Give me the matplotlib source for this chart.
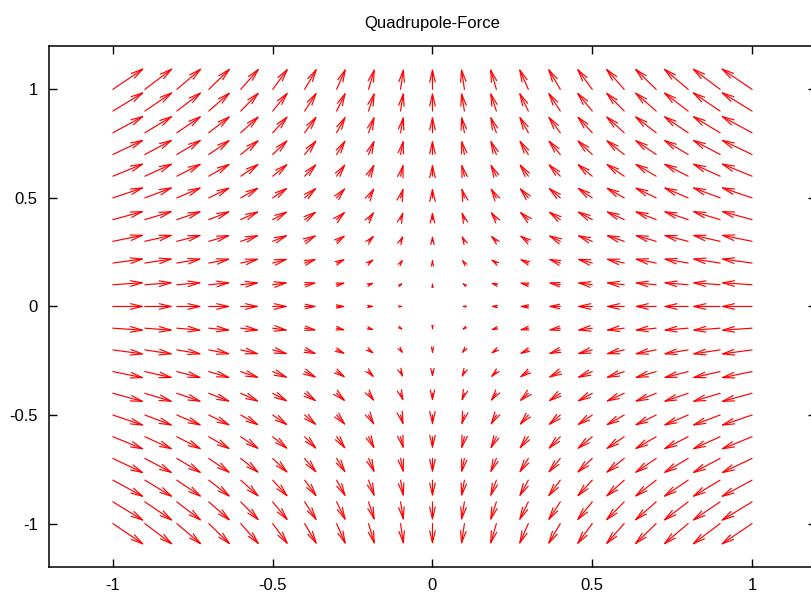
import matplotlib
matplotlib.use("Agg")
import matplotlib.pyplot as plt
import numpy as np

plt.rcParams['font.family'] = ['Liberation Sans', 'DejaVu Sans']

# grid of arrow tails (same in x and y)
x_pos = [-1.0, -0.9, -0.8, -0.7, -0.6, -0.5, -0.4, -0.3, -0.2, -0.1, 0.0,
         0.1, 0.2, 0.3, 0.4, 0.5, 0.6, 0.7, 0.8, 0.9, 1.0]
y_pos = [-1.0, -0.9, -0.8, -0.7, -0.6, -0.5, -0.4, -0.3, -0.2, -0.1, 0.0,
         0.1, 0.2, 0.3, 0.4, 0.5, 0.6, 0.7, 0.8, 0.9, 1.0]
# horizontal force component per column, vertical component per row
u_col = [0.10, 0.09, 0.08, 0.07, 0.06, 0.05, 0.04, 0.03, 0.02, 0.01, 0.0,
         -0.01, -0.02, -0.03, -0.04, -0.05, -0.06, -0.07, -0.08, -0.09, -0.10]
v_row = [-0.10, -0.09, -0.08, -0.07, -0.06, -0.05, -0.04, -0.03, -0.02, -0.01, 0.0,
         0.01, 0.02, 0.03, 0.04, 0.05, 0.06, 0.07, 0.08, 0.09, 0.10]

xticks = [-1, -0.5, 0, 0.5, 1]
xtick_labels = ["-1", "-0.5", "0", "0.5", "1"]
yticks = [-1, -0.5, 0, 0.5, 1]
ytick_labels = ["-1", "-0.5", "0", "0.5", "1"]

fig = plt.figure(figsize=(8.12, 5.96), dpi=100)
ax = fig.add_axes([0.0603, 0.0487, 0.9446, 0.8742])
ax.set_xlim(-1.2, 1.2)
ax.set_ylim(-1.2, 1.2)

for i, x in enumerate(x_pos):
    for j, y in enumerate(y_pos):
        u, v = u_col[i], v_row[j]
        length = np.hypot(u, v)
        if length == 0:
            continue
        # shrink heads on short arrows, like gnuplot does
        f = min(1.0, length / 0.05)
        style = "->,head_length=%.2f,head_width=%.2f" % (0.85 * f, 0.2 * f)
        ax.annotate("", xy=(x + u, y + v), xytext=(x, y),
                    arrowprops=dict(arrowstyle=style, color="red", lw=0.85,
                                    shrinkA=0, shrinkB=0))

ax.set_xticks(xticks)
ax.set_xticklabels(xtick_labels)
ax.set_yticks(yticks)
ax.set_yticklabels(ytick_labels)
ax.tick_params(direction="in", length=6, width=1, top=True, right=True,
               labelsize=12, pad=8)
for s in ax.spines.values():
    s.set_linewidth(1.1)

ax.set_title("Quadrupole-Force", fontsize=12, pad=13)

fig.savefig("out.png", dpi=100)
